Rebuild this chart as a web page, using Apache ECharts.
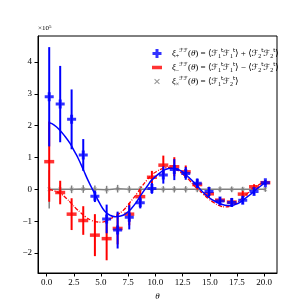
<!DOCTYPE html>
<html>
<head>
<meta charset="utf-8">
<script src="https://cdn.jsdelivr.net/npm/echarts@6/dist/echarts.min.js"></script>
<style>html,body{margin:0;padding:0;background:#fff}#c{width:307px;height:307px}</style>
</head>
<body>
<div id="c"></div>
<script>
// ---- data (values in units of 1e5) ----
const theta = [0.24, 1.25, 2.30, 3.37, 4.44, 5.52, 6.53, 7.60, 8.61, 9.68, 10.73, 11.74, 12.79, 13.85, 14.93, 15.94, 17.02, 18.03, 19.07, 20.11];
const xiPlus = [2.91, 2.68, 2.20, 1.08, -0.22, -0.93, -1.28, -0.88, -0.42, 0.03, 0.45, 0.62, 0.50, 0.19, -0.07, -0.37, -0.41, -0.34, -0.07, 0.21];
const xiPlusErr = [1.56, 1.20, 0.94, 0.50, 0.18, 0.45, 0.58, 0.38, 0.18, 0.17, 0.27, 0.33, 0.20, 0.15, 0.14, 0.12, 0.14, 0.12, 0.10, 0.08];
const xiMinus = [0.87, -0.10, -0.78, -0.98, -1.44, -1.55, -1.23, -0.78, -0.23, 0.38, 0.76, 0.71, 0.55, 0.15, -0.14, -0.34, -0.40, -0.15, 0.08, 0.21];
const xiMinusErr = [1.26, 0.37, 0.50, 0.45, 0.66, 0.68, 0.50, 0.35, 0.20, 0.20, 0.30, 0.30, 0.20, 0.15, 0.12, 0.10, 0.12, 0.10, 0.08, 0.06];
const xiCross = [0.00, 0.00, 0.00, 0.01, 0.00, -0.01, 0.02, 0.00, 0.00, 0.01, 0.00, 0.00, 0.00, 0.00, 0.00, 0.00, 0.00, 0.00, 0.00, 0.00];
const xiCrossErr = [0.60, 0.13, 0.12, 0.12, 0.12, 0.12, 0.12, 0.11, 0.10, 0.10, 0.10, 0.10, 0.10, 0.09, 0.09, 0.09, 0.09, 0.08, 0.08, 0.08];
// model curves [theta, value]
const modelPlus = [[0.25,2.09],[0.7,2.02],[1.22,1.86],[1.7,1.66],[2.14,1.45],[2.6,1.17],[2.91,0.97],[3.4,0.6],[3.8,0.29],[4.41,-0.13],[4.9,-0.45],[5.33,-0.68],[5.82,-0.81],[6.3,-0.86],[6.8,-0.84],[7.36,-0.74],[7.8,-0.6],[8.28,-0.39],[8.89,-0.07],[9.3,0.12],[9.66,0.29],[10.42,0.52],[10.9,0.62],[11.5,0.66],[11.96,0.64],[12.4,0.57],[12.84,0.45],[13.3,0.3],[13.76,0.14],[14.1,0.01],[14.5,-0.13],[15.02,-0.28],[15.5,-0.38],[15.94,-0.45],[16.4,-0.5],[16.86,-0.51],[17.3,-0.48],[17.78,-0.41],[18.2,-0.3],[18.7,-0.17],[19.2,-0.02],[19.62,0.09],[20.11,0.22]];
const modelMinus = [[0.25,0.0],[0.8,-0.06],[1.35,-0.15],[1.8,-0.28],[2.27,-0.44],[2.7,-0.6],[3.19,-0.75],[3.6,-0.87],[4.1,-0.97],[4.6,-1.02],[5.02,-1.03],[5.5,-0.99],[5.94,-0.91],[6.5,-0.8],[7.05,-0.66],[7.5,-0.48],[7.97,-0.28],[8.35,-0.11],[8.74,0.08],[9.2,0.28],[9.66,0.45],[10.1,0.56],[10.57,0.64],[11.0,0.68],[11.34,0.69],[11.8,0.64],[12.26,0.55],[12.7,0.42],[13.18,0.27],[13.6,0.1],[13.94,0.0],[14.4,-0.15],[14.9,-0.3],[15.4,-0.42],[15.94,-0.52],[16.5,-0.55],[17.0,-0.51],[17.5,-0.43],[17.9,-0.3],[18.4,-0.15],[18.9,0.02],[19.4,0.13],[20.11,0.22]];
const xTicks = [0, 2.5, 5, 7.5, 10, 12.5, 15, 17.5, 20];
const yTicks = [-2, -1, 0, 1, 2, 3, 4];
const legendText = {
  xi_plus: '{i|ξ}{s|+}{p|ℱℱ}{n|(}{i|θ}{n|) = ⟨}{c|ℱ}{s|1}{p|t}{c|ℱ}{s|1}{p|t}{n|⟩ + ⟨}{c|ℱ}{s|2}{p|t}{c|ℱ}{s|2}{p|t}{n|⟩}',
  xi_minus: '{i|ξ}{s|−}{p|ℱℱ}{n|(}{i|θ}{n|) = ⟨}{c|ℱ}{s|1}{p|t}{c|ℱ}{s|1}{p|t}{n|⟩ − ⟨}{c|ℱ}{s|2}{p|t}{c|ℱ}{s|2}{p|t}{n|⟩}',
  xi_cross: '{i|ξ}{s|×}{p|ℱℱ}{n|(}{i|θ}{n|) = ⟨}{c|ℱ}{s|1}{p|t}{c|ℱ}{s|2}{p|t}{n|⟩}'
};

const SERIF = "'Liberation Serif','DejaVu Serif',serif";
const plusPath = 'path://M3,0H6V3H9V6H6V9H3V6H0V3H3Z';
const barPath = 'path://M0,0H10V3.5H0Z';
const crossPath = 'path://M0,1L1,0L5,4L9,0L10,1L6,5L10,9L9,10L5,6L1,10L0,9L4,5Z';
const crossLegendPath = 'path://M-3,-3M13,13M0,1.4L1.4,0L5,3.6L8.6,0L10,1.4L6.4,5L10,8.6L8.6,10L5,6.4L1.4,10L0,8.6L3.6,5Z';

function errBars(xs, ys, es, color, w, z) {
  return {
    type: 'custom', z: z, silent: true,
    data: xs.map((x, i) => [x, ys[i] - es[i], ys[i] + es[i]]),
    encode: { x: 0, y: [1, 2] },
    renderItem: function (params, api) {
      const a = api.coord([api.value(0), api.value(1)]);
      const b = api.coord([api.value(0), api.value(2)]);
      return { type: 'line', shape: { x1: a[0], y1: a[1], x2: b[0], y2: b[1] }, style: { stroke: color, lineWidth: w } };
    }
  };
}
const pts = (xs, ys) => xs.map((x, i) => [x, ys[i]]);

const chart = echarts.init(document.getElementById('c'), null, { renderer: 'canvas' });
const richStyles = {
  n: { fontSize: 9, fontFamily: SERIF, lineHeight: 11, color: '#000' },
  i: { fontSize: 9, fontFamily: SERIF, fontStyle: 'italic', lineHeight: 11, color: '#000' },
  c: { fontSize: 8.5, fontFamily: "'DejaVu Sans',serif", fontStyle: 'italic', lineHeight: 11, color: '#000' },
  s: { fontSize: 6, fontFamily: SERIF, lineHeight: 6, verticalAlign: 'bottom', color: '#000' },
  p: { fontSize: 5.5, fontFamily: "'DejaVu Sans',serif", lineHeight: 6, verticalAlign: 'top', color: '#000' }
};
chart.setOption({
  animation: false,
  backgroundColor: '#fff',
  grid: { left: 38, top: 36, right: 30, bottom: 34, show: true, borderColor: '#000', borderWidth: 1, backgroundColor: 'transparent' },
  xAxis: {
    type: 'value', min: -0.79, max: 21.18,
    name: 'θ', nameLocation: 'middle', nameGap: 17,
    nameTextStyle: { fontFamily: SERIF, fontStyle: 'italic', fontSize: 9, color: '#000' },
    axisLine: { show: true, onZero: false, lineStyle: { color: '#000', width: 1 } },
    axisTick: { show: true, length: 3.5, lineStyle: { color: '#000', width: 1 }, customValues: xTicks },
    axisLabel: { customValues: xTicks, formatter: v => v.toFixed(1), fontFamily: SERIF, fontSize: 9, color: '#000', margin: 5 },
    splitLine: { show: false }
  },
  yAxis: {
    type: 'value', min: -2.63, max: 4.82,
    axisLine: { show: true, onZero: false, lineStyle: { color: '#000', width: 1 } },
    axisTick: { show: true, length: 3.5, lineStyle: { color: '#000', width: 1 }, customValues: yTicks },
    axisLabel: { customValues: yTicks, formatter: v => (v < 0 ? '−' + Math.abs(v) : String(v)), fontFamily: SERIF, fontSize: 9, color: '#000', margin: 6 },
    splitLine: { show: false }
  },
  legend: {
    orient: 'vertical', left: 147, top: 43, itemWidth: 10, itemHeight: 9, itemGap: 3,
    data: [
      { name: 'xi_plus', icon: plusPath, itemStyle: { color: '#0000ff' } },
      { name: 'xi_minus', icon: barPath, itemStyle: { color: '#ff0000' } },
      { name: 'xi_cross', icon: crossLegendPath, itemStyle: { color: '#808080' } }
    ],
    formatter: name => legendText[name],
    textStyle: { rich: richStyles, padding: [0, 0, 0, 5] },
    selectedMode: false
  },
  graphic: [{
    type: 'text', left: 38, top: 24,
    style: { text: '{n|×10}{p|5}', rich: {
      n: { fontSize: 7, fontFamily: SERIF, lineHeight: 9, fill: '#000' },
      p: { fontSize: 5, fontFamily: SERIF, lineHeight: 5, verticalAlign: 'top', fill: '#000' } } }
  }],
  series: [
    { type: 'line', name: 'gray_line', data: pts(theta, xiCross), showSymbol: false, symbol: 'none', lineStyle: { color: '#808080', width: 1.5 }, z: 1, silent: true },
    errBars(theta, xiCross, xiCrossErr, '#808080', 1.5, 2),
    { type: 'scatter', name: 'xi_cross', data: pts(theta, xiCross), symbol: crossPath, symbolSize: 4, itemStyle: { color: '#808080' }, z: 3 },
    { type: 'line', name: 'model_minus', data: modelMinus, showSymbol: false, symbol: 'none', smooth: true, lineStyle: { color: '#ff0000', width: 1.3, type: [4, 1.5, 1, 1.5] }, z: 4 },
    errBars(theta, xiMinus, xiMinusErr, '#ff0000', 2, 5),
    { type: 'scatter', name: 'xi_minus', data: pts(theta, xiMinus), symbol: 'rect', symbolSize: [10, 3.5], itemStyle: { color: '#ff0000' }, z: 6 },
    errBars(theta, xiPlus, xiPlusErr, '#0000ff', 2, 7),
    { type: 'scatter', name: 'xi_plus', data: pts(theta, xiPlus), symbol: plusPath, symbolSize: 9, itemStyle: { color: '#0000ff' }, z: 8 },
    { type: 'line', name: 'model_plus', data: modelPlus, showSymbol: false, symbol: 'none', smooth: true, lineStyle: { color: '#0000ff', width: 1.5 }, z: 9 }
  ]
});
</script>
</body>
</html>
